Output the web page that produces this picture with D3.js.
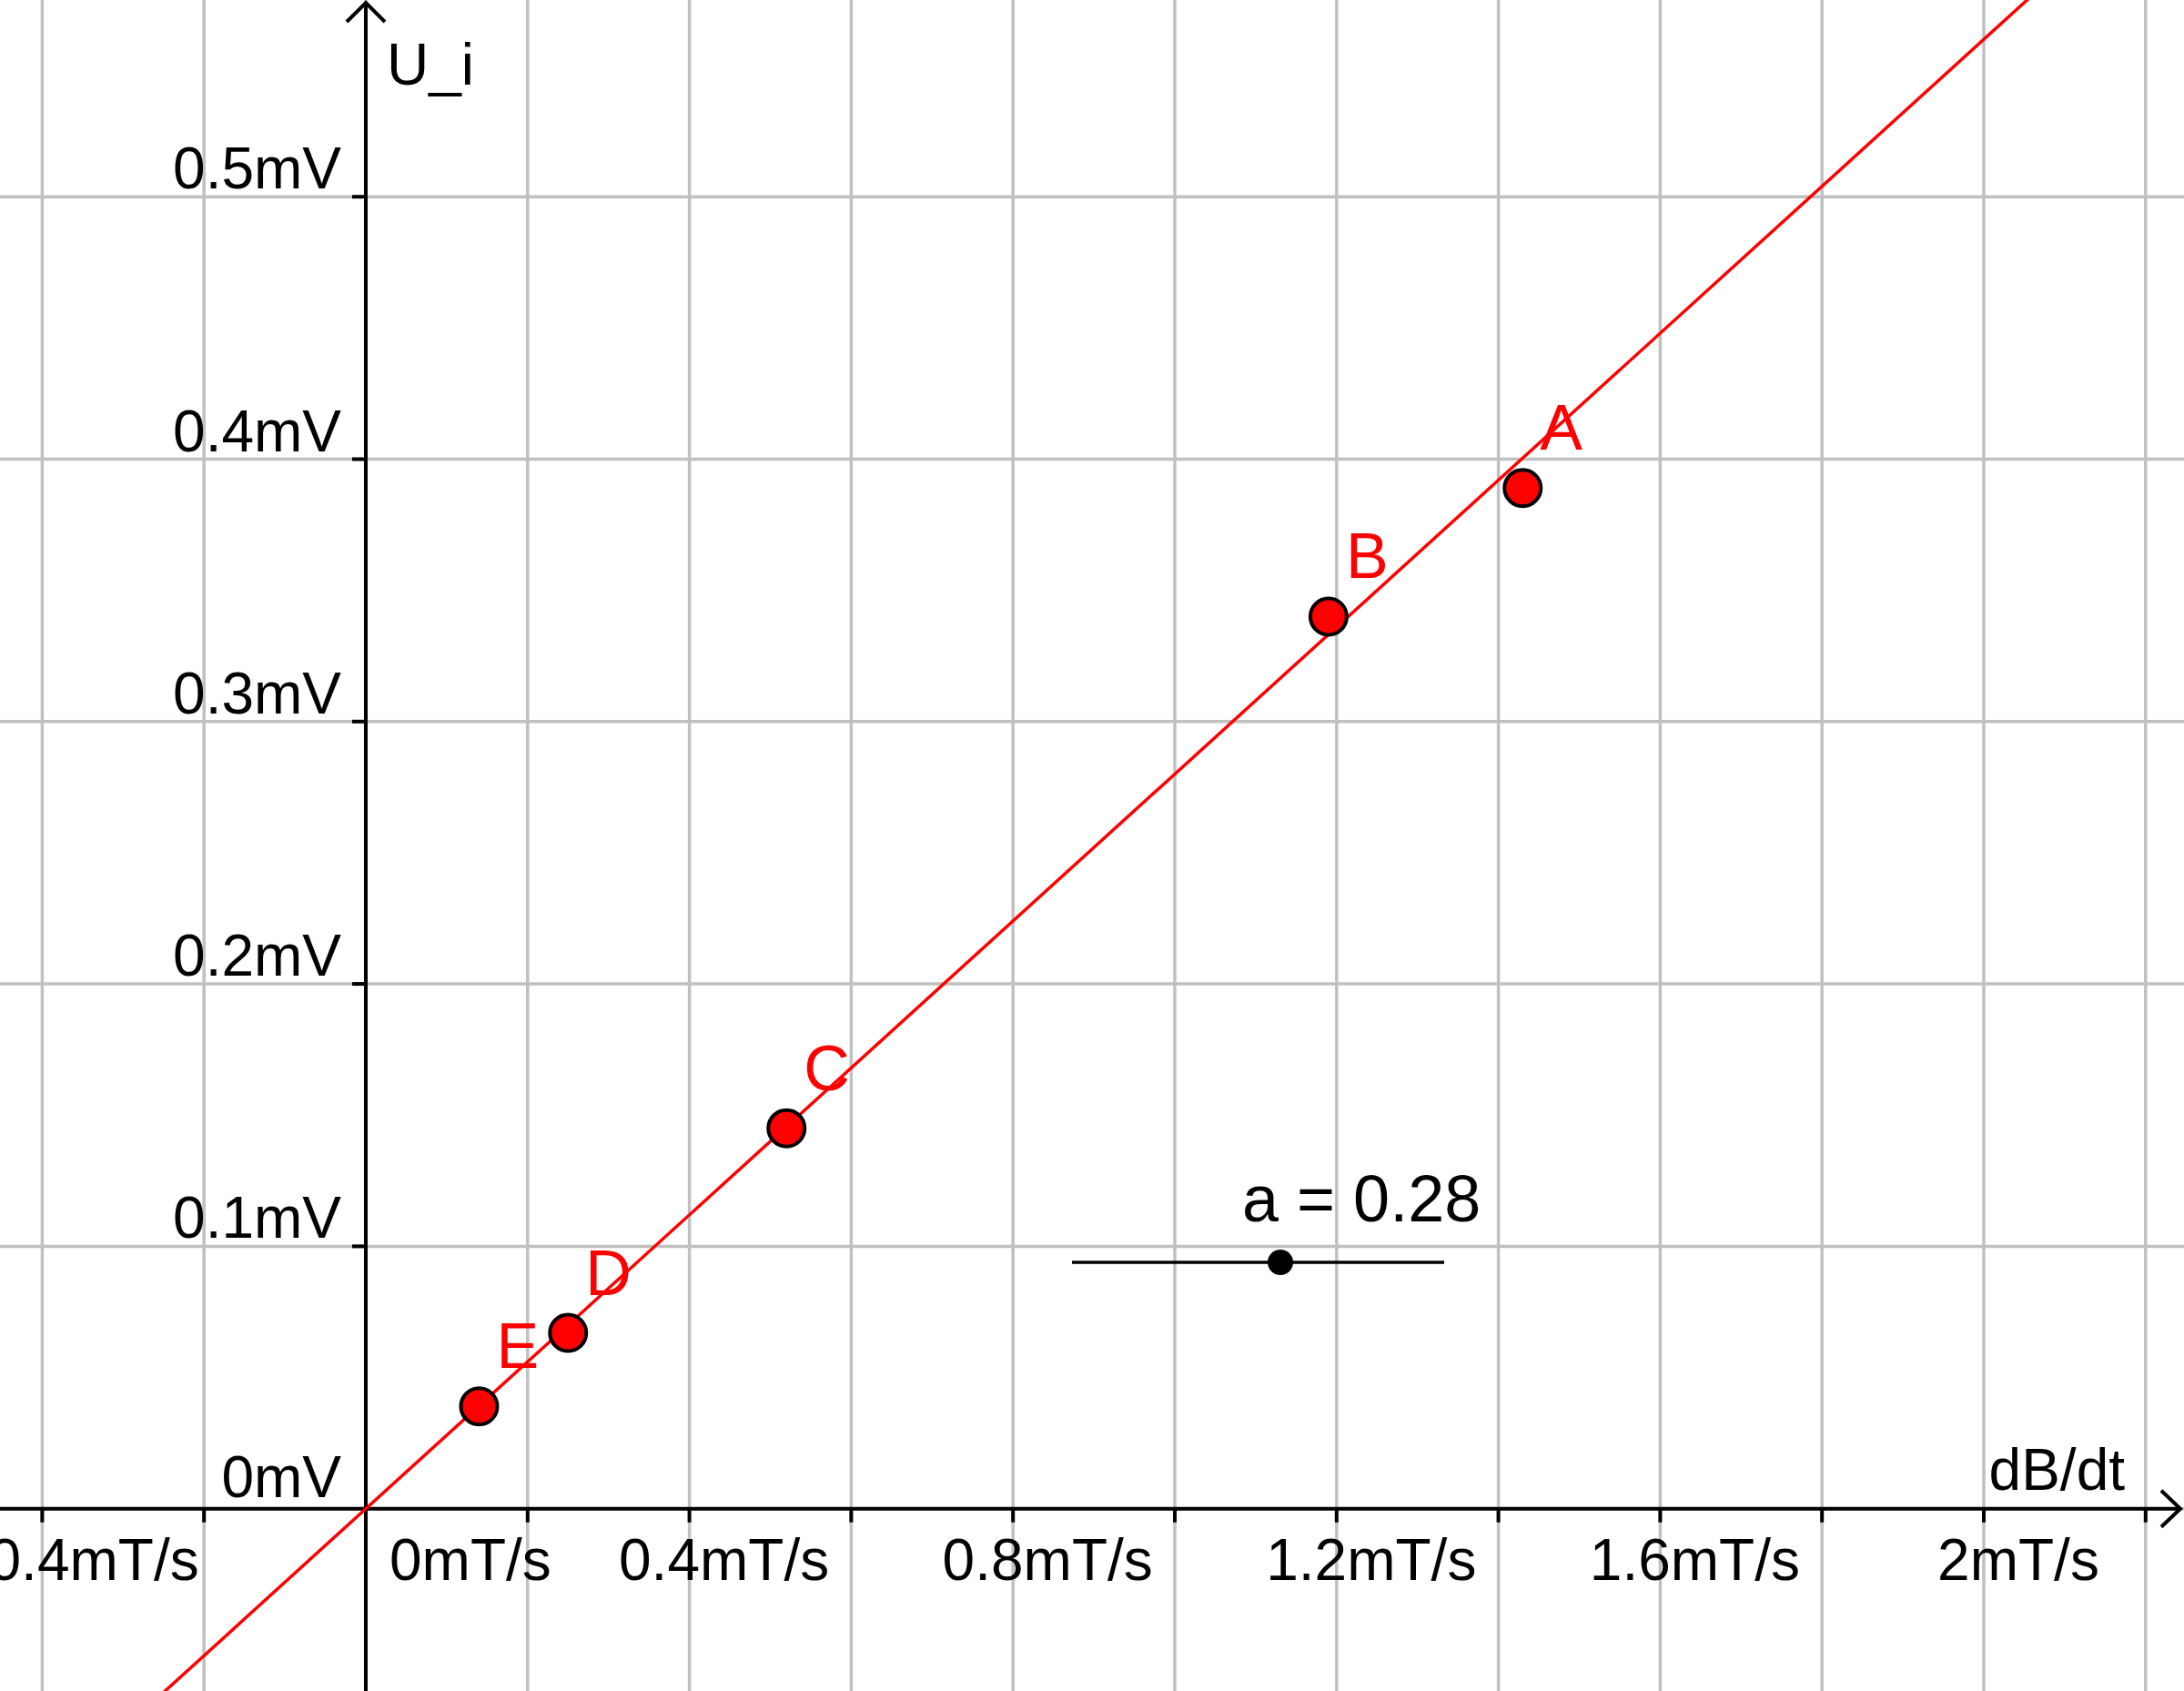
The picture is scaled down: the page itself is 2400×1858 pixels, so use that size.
<!DOCTYPE html>
<html>
<head>
    <meta charset="utf-8">
    <script src="https://d3js.org/d3.v7.min.js"></script>
    <style>
        body { margin: 0; background: #fff; }
        svg { display: block; font-family: 'Liberation Sans', Arial, sans-serif; }
    </style>
</head>
<body>
<div id="chart"></div>
<script>
    // measured points (dB/dt in mT/s, U_i in mV)
    var pointNames = ["A", "B", "C", "D", "E"];
    var dBdt = [1.43, 1.19, 0.52, 0.25, 0.14];
    var Ui = [0.389, 0.340, 0.145, 0.067, 0.039];

    // slope of the fitted line, slider runs 0..0.5
    var slope = 0.28;
    var sliderRange = [0, 0.5];

    var xTicks = [-0.4, -0.2, 0, 0.2, 0.4, 0.6, 0.8, 1, 1.2, 1.4, 1.6, 1.8, 2, 2.2];
    var xLabelTicks = [-0.4, 0, 0.4, 0.8, 1.2, 1.6, 2];
    var yTicks = [0, 0.1, 0.2, 0.3, 0.4, 0.5];

    var width = 2400, height = 1858;
    var originX = 402, originY = 1657.7;
    var pxPerX = 889, pxPerY = 2883;

    var x = d3.scaleLinear()
        .domain([-originX / pxPerX, (width - originX) / pxPerX])
        .range([0, width]);
    var y = d3.scaleLinear()
        .domain([-(height - originY) / pxPerY, originY / pxPerY])
        .range([height, 0]);

    var svg = d3.select("#chart").append("svg")
        .attr("width", width)
        .attr("height", height);

    // grid
    svg.append("g").selectAll("line")
        .data(xTicks)
        .enter().append("line")
        .attr("x1", d => x(d)).attr("x2", d => x(d))
        .attr("y1", 0).attr("y2", height)
        .attr("stroke", "#c0c0c0").attr("stroke-width", 3.5);
    svg.append("g").selectAll("line")
        .data(yTicks)
        .enter().append("line")
        .attr("x1", 0).attr("x2", width)
        .attr("y1", d => y(d)).attr("y2", d => y(d))
        .attr("stroke", "#c0c0c0").attr("stroke-width", 3.5);

    // axes
    var ax = svg.append("g").attr("stroke", "#000").attr("stroke-width", 4).attr("fill", "none");
    ax.append("line").attr("x1", 0).attr("x2", 2396).attr("y1", y(0)).attr("y2", y(0));
    ax.append("line").attr("x1", x(0)).attr("x2", x(0)).attr("y1", 3).attr("y2", height);
    ax.append("path").attr("d", "M2375," + (y(0) - 20) + "L2396," + y(0) + "L2375," + (y(0) + 20));
    ax.append("path").attr("d", "M" + (x(0) - 21) + ",24L" + x(0) + ",3L" + (x(0) + 21) + ",24");

    ax.selectAll(".xt")
        .data(xTicks.filter(d => d !== 0))
        .enter().append("line")
        .attr("x1", d => x(d)).attr("x2", d => x(d))
        .attr("y1", y(0)).attr("y2", y(0) + 15);
    ax.selectAll(".yt")
        .data(yTicks.filter(d => d !== 0))
        .enter().append("line")
        .attr("x1", x(0) - 15).attr("x2", x(0))
        .attr("y1", d => y(d)).attr("y2", d => y(d));

    // tick labels
    svg.append("g").selectAll("text")
        .data(xLabelTicks)
        .enter().append("text")
        .attr("x", d => d === 0 ? x(0) + 26 : x(d) + 38)
        .attr("y", y(0) + 78)
        .attr("text-anchor", d => d === 0 ? "start" : "middle")
        .attr("font-size", 64)
        .text(d => (d < 0 ? "\u2212" : "") + d3.format("~g")(Math.abs(d)) + "mT/s");

    svg.append("g").selectAll("text")
        .data(yTicks)
        .enter().append("text")
        .attr("x", x(0) - 27)
        .attr("y", d => d === 0 ? y(d) - 13 : y(d) - 9)
        .attr("text-anchor", "end")
        .attr("font-size", 64)
        .text(d => d3.format("~g")(d) + "mV");

    svg.append("text").attr("x", x(0) + 23).attr("y", 93).attr("font-size", 64).text("U_i");
    svg.append("text").attr("x", 2335).attr("y", 1637).attr("text-anchor", "end")
        .attr("font-size", 64).text("dB/dt");

    // fitted line y = a*x
    var xd = x.domain();
    svg.append("line")
        .attr("x1", x(xd[0])).attr("y1", y(slope * xd[0]))
        .attr("x2", x(xd[1])).attr("y2", y(slope * xd[1]))
        .attr("stroke", "#ff0000").attr("stroke-width", 3.5);

    // points
    var pts = pointNames.map((n, i) => ({ name: n, x: dBdt[i], y: Ui[i] }));
    var pg = svg.append("g");
    pg.selectAll("circle")
        .data(pts)
        .enter().append("circle")
        .attr("cx", d => x(d.x)).attr("cy", d => y(d.y))
        .attr("r", 20)
        .attr("fill", "#ff0000").attr("stroke", "#000").attr("stroke-width", 4);
    pg.selectAll("text")
        .data(pts)
        .enter().append("text")
        .attr("x", d => x(d.x) + 19).attr("y", d => y(d.y) - 42)
        .attr("fill", "#ff0000").attr("font-size", 70)
        .text(d => d.name);

    // slider for a
    var s = d3.scaleLinear().domain(sliderRange).range([1178, 1587]);
    svg.append("line").attr("x1", s(sliderRange[0])).attr("x2", s(sliderRange[1]))
        .attr("y1", 1387).attr("y2", 1387).attr("stroke", "#000").attr("stroke-width", 3.5);
    svg.append("circle").attr("cx", s(slope)).attr("cy", 1387).attr("r", 14).attr("fill", "#000");
    svg.append("text").attr("x", 1365).attr("y", 1342).attr("font-size", 72)
        .text("a = " + slope.toFixed(2));
</script>
</body>
</html>
